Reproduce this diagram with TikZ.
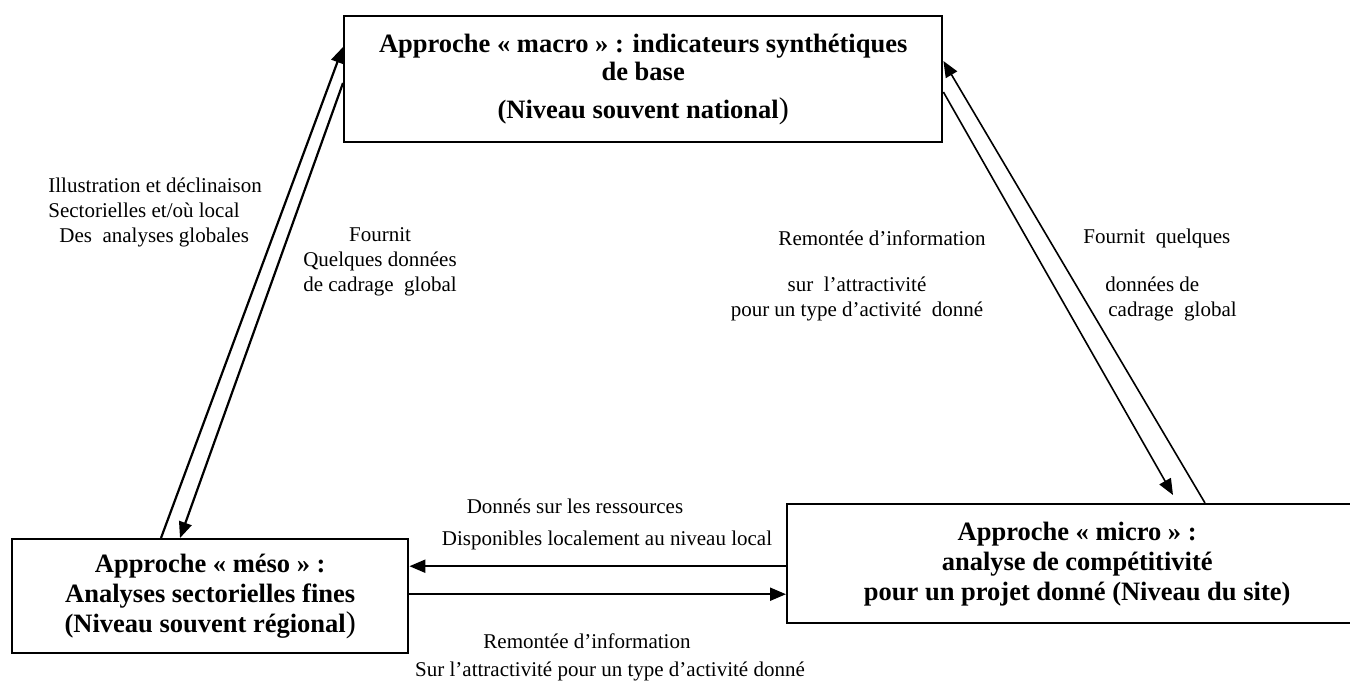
\documentclass[tikz,border=0pt]{standalone}
\usepackage{fontspec}
\setmainfont{Liberation Serif}
\usetikzlibrary{arrows.meta}

\begin{document}
\begin{tikzpicture}[x=0.5pt,y=-0.5pt,
  box/.style={draw, line width=1.2pt, inner sep=0pt, align=center,
    font=\bfseries\fontsize{13.25}{15}\selectfont},
  lbl/.style={inner sep=0pt, font=\fontsize{10.5}{12.5}\selectfont},
  link/.style={line width=1.1pt, -{Triangle[length=8pt,width=6.5pt]}},
  thinlink/.style={line width=0.8pt, -{Triangle[length=8pt,width=6.5pt]}},
]
\useasboundingbox (0,0) rectangle (1350,682);

% the three approaches
\node[box, minimum width=299pt, minimum height=63pt, anchor=north west] (macro) at (343,15)
  {Approche « macro » : indicateurs synthétiques\\[-1pt]
   de base\\[4pt]
   (Niveau souvent national{\mdseries\fontsize{15}{15}\selectfont)}};
\node[box, minimum width=198pt, minimum height=57pt, anchor=north west] (meso) at (11,538)
  {Approche « méso » :\\
   Analyses sectorielles fines\\
   (Niveau souvent régional{\mdseries\fontsize{15}{15}\selectfont)}};
\node[box, minimum width=290pt, minimum height=59.5pt, anchor=north west] (micro) at (786,503)
  {Approche « micro » :\\
   analyse de compétitivité\\
   pour un projet donné (Niveau du site)};

% meso <-> macro
\draw[link] ([xshift=75pt]meso.north west) -- ([yshift=-16pt]macro.north west);
\draw[link] ([yshift=-34pt]macro.north west) -- ([xshift=84.5pt]meso.north west);

% micro <-> macro
\draw[thinlink] ([xshift=209.5pt]micro.north west) -- ([yshift=-23pt]macro.north east);
\draw[thinlink] ([yshift=-38.5pt]macro.north east) -- ([xshift=193.5pt,yshift=4pt]micro.north west);

% micro <-> meso
\coordinate (h1) at ([yshift=15pt]meso.east);
\coordinate (h2) at ([yshift=1pt]meso.east);
\draw[link] (h1 -| micro.west) -- (h1);
\draw[link] (h2) -- (h2 -| micro.west);

% labels, left side
\node[lbl, align=left, anchor=west] (illus) at (48,212)
  {Illustration et déclinaison\\
   Sectorielles et/où local\\
   \hspace{5.5pt}Des~ analyses globales};
\node[lbl, align=center] (fournitA) at (380,262)
  {Fournit\\
   Quelques données\\
   de cadrage~ global};

% labels, right side
\node[lbl] (remontA) at (882,238) {Remontée d’information};
\node[lbl, align=center] (attractA) at (857,299)
  {sur~ l’attractivité\\
   pour un type d’activité~ donné};
\node[lbl, anchor=west] (fournitB) at (1083,238) {Fournit~ quelques};
\node[lbl, align=left, anchor=west] (cadrageB) at (1105,299)
  {données de\\
   \hspace{1.5pt}cadrage~ global};

% labels, bottom
\node[lbl] (donnes) at (575,506) {Donnés sur les ressources};
\node[lbl] (dispo) at (607,540) {Disponibles localement au niveau local};
\node[lbl] (remontB) at (587,641) {Remontée d’information};
\node[lbl] (attractB) at (610,671) {Sur l’attractivité pour un type d’activité donné};
\end{tikzpicture}
\end{document}
